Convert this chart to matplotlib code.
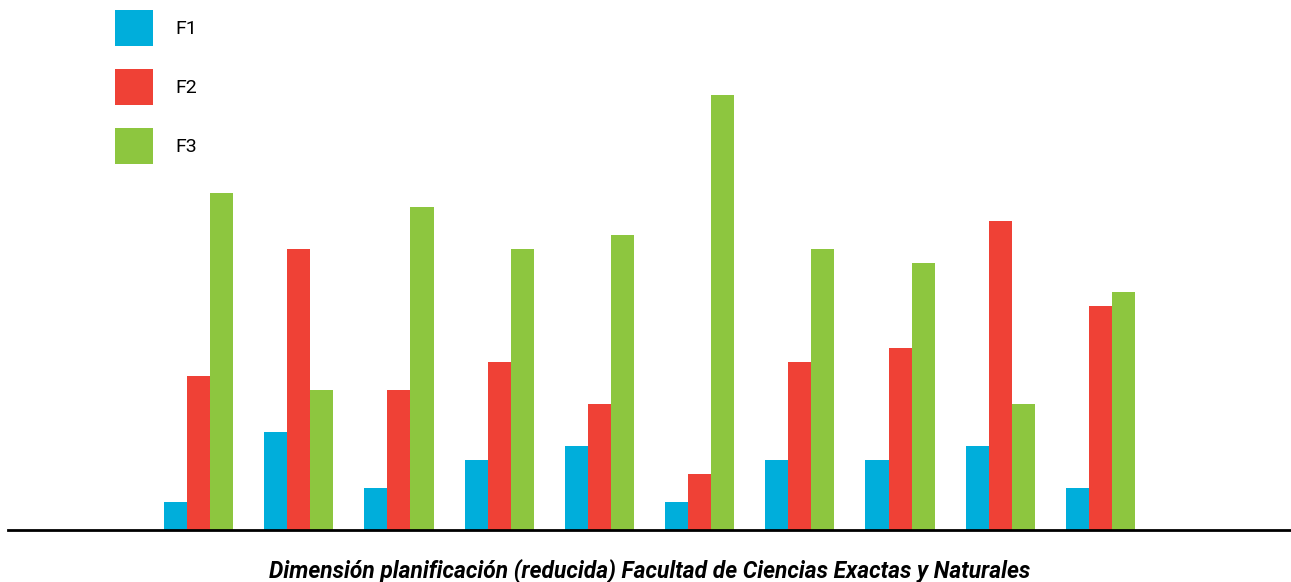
import numpy as np
import matplotlib.pyplot as plt
from matplotlib.patches import Patch

# values (units of one step)
groups = list(range(1, 11))
f1 = [2, 7, 3, 5, 6, 2, 5, 5, 6, 3]
f2 = [11, 20, 10, 12, 9, 4, 12, 13, 22, 16]
f3 = [24, 10, 23, 20, 21, 31, 20, 19, 9, 17]
series_names = ["F1", "F2", "F3"]
colors = ["#00AEDB", "#EF4136", "#8DC63F"]
title = "Dimensión planificación (reducida) Facultad de Ciencias Exactas y Naturales"

W, H = 1291, 582
fig = plt.figure(figsize=(W / 100, H / 100), dpi=100)

base_px = 529.5
ax = fig.add_axes([8 / W, (H - base_px) / H, 1 - 8 / W, base_px / H])

x = np.arange(len(groups))
width = 0.23
for i, (vals, c) in enumerate(zip([f1, f2, f3], colors)):
    ax.bar(x + (i - 1) * width, vals, width=width, color=c, linewidth=0)

ax.set_xlim(-1.901, 10.901)
ax.set_ylim(0, base_px / 14.0)

for s in ["top", "right", "left"]:
    ax.spines[s].set_visible(False)
ax.spines["bottom"].set_linewidth(2)
ax.spines["bottom"].set_color("black")
ax.set_xticks([])
ax.set_yticks([])

handles = [Patch(facecolor=c, edgecolor="none") for c in colors]
fig.legend(
    handles, series_names,
    loc="upper left",
    bbox_to_anchor=(115 / W, 1 - 10 / H),
    frameon=False,
    handlelength=1.96,
    handleheight=2.45,
    handletextpad=1.15,
    labelspacing=1.2,
    borderpad=0,
    borderaxespad=0,
    prop={"family": "Roboto", "size": 14},
)

fig.text(650 / W, 1 - 571 / H, title, ha="center", va="center",
         fontsize=16.4, fontweight="bold", fontstyle="italic", family="Roboto")

fig.savefig("out.png", dpi=100)
